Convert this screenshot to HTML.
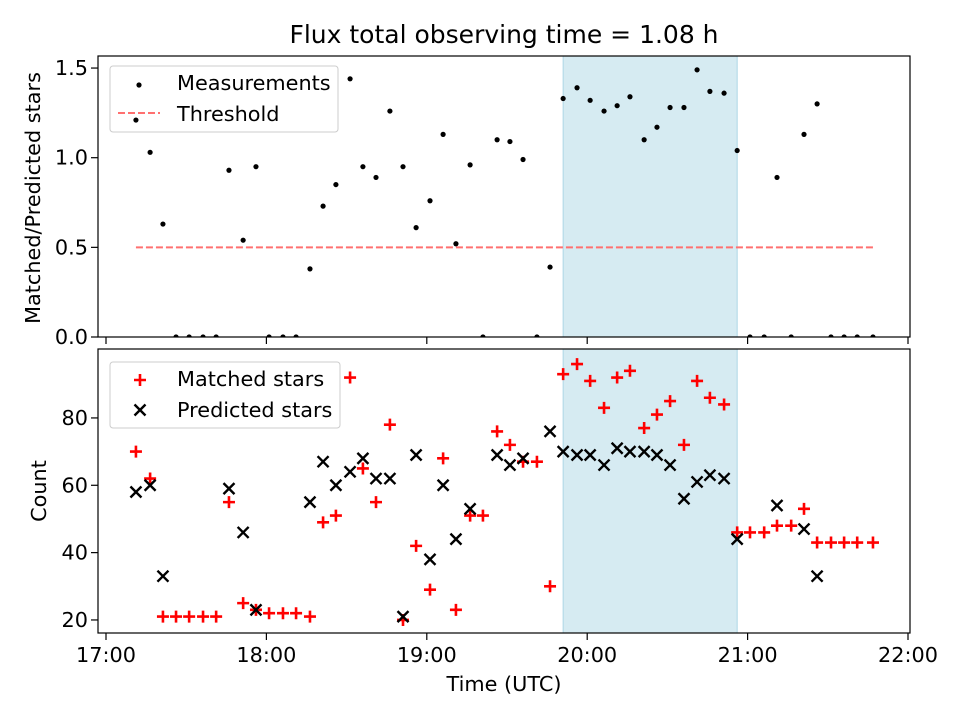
<!DOCTYPE html>
<html><head><meta charset="utf-8"><style>
body{margin:0;background:#fff;}
svg{display:block;font-family:"DejaVu Sans","Liberation Sans",sans-serif;}
</style></head><body>
<svg id="chart" width="960" height="720" xmlns="http://www.w3.org/2000/svg">
<rect width="960" height="720" fill="#fff"/>
<text x="504" y="43" font-size="25" text-anchor="middle">Flux total observing time = 1.08 h</text>
<g id="topPanel"></g>
<g id="botPanel"></g>
<text x="504" y="691" font-size="20.8" text-anchor="middle">Time (UTC)</text>
<text transform="translate(40,198) rotate(-90)" font-size="20.8" text-anchor="middle">Matched/Predicted stars</text>
<text transform="translate(46,491) rotate(-90)" font-size="20.8" text-anchor="middle">Count</text>
</svg>
<script>
// minutes after 17:00
const times=[11.2,16.5,21.3,26.2,31.1,36.3,41.2,46.0,51.3,56.1,61.0,66.2,71.1,76.3,81.2,86.0,91.3,96.1,101.0,106.2,111.1,116.0,121.2,126.1,130.9,136.2,141.0,146.3,151.1,156.0,161.2,166.1,171.0,176.2,181.1,186.3,191.2,196.0,201.3,206.1,211.0,216.2,221.1,225.9,231.2,236.1,240.9,246.2,251.0,256.3,261.1,266.0,271.2,276.1,281.0,286.9];
const ratio=[1.21,1.03,0.63,0,0,0,0,0.93,0.54,0.95,0,0,0,0.38,0.73,0.85,1.44,0.95,0.89,1.26,0.95,0.61,0.76,1.13,0.52,0.96,0,1.10,1.09,0.99,0,0.39,1.33,1.39,1.32,1.26,1.29,1.34,1.10,1.17,1.28,1.28,1.49,1.37,1.36,1.04,0,0,0.89,0,1.13,1.30,0,0,0,0];
const matched=[70,62,21,21,21,21,21,55,25,23,22,22,22,21,49,51,92,65,55,78,20,42,29,68,23,51,51,76,72,67,67,30,93,96,91,83,92,94,77,81,85,72,91,86,84,46,46,46,48,48,53,43,43,43,43,43];
const predicted=[58,60,33,0,0,0,0,59,46,23,0,0,0,55,67,60,64,68,62,62,21,69,38,60,44,53,0,69,66,68,0,76,70,69,69,66,71,70,70,69,66,56,61,63,62,44,0,0,54,0,47,33,0,0,0,0];
const xTickVals=[0,60,120,180,240,300];
const xTickLabels=["17:00","18:00","19:00","20:00","21:00","22:00"];
const topTicks=[0,0.5,1.0,1.5];
const botTicks=[20,40,60,80];
const threshold=0.5;
const spanStart=171.0, spanEnd=236.1;

const NS="http://www.w3.org/2000/svg";
const L=98,R=910;
const X=m=>106+m*160.4/60;
const Yt=v=>337-v*179.3;
const Yb=v=>687.3-v*3.367;
function el(p,tag,a){const e=document.createElementNS(NS,tag);for(const k in a)e.setAttribute(k,a[k]);p.appendChild(e);return e;}
const topG=document.getElementById('topPanel'),botG=document.getElementById('botPanel');

function panel(g,y0,y1,ticks,Y,fmt,labels){
  const cp=el(g,'clipPath',{id:'c'+y0});el(cp,'rect',{x:L,y:y0,width:R-L,height:y1-y0});
  const s=el(g,'rect',{x:X(spanStart),y:y0,width:X(spanEnd)-X(spanStart),height:y1-y0,fill:'#add8e6','fill-opacity':0.5,stroke:'#add8e6'});
  
  
  xTickVals.forEach((v,i)=>{
    el(g,'line',{x1:X(v),x2:X(v),y1:y1,y2:y1+7,stroke:'#000','stroke-width':1.2});
    if(labels){const tx=el(g,'text',{x:X(v),y:y1+29,'font-size':20.8,'text-anchor':'middle'});tx.textContent=xTickLabels[i];
      
      }
  });
  ticks.forEach(v=>{
    el(g,'line',{x1:L-7,x2:L,y1:Y(v),y2:Y(v),stroke:'#000','stroke-width':1.2});
    const tx=el(g,'text',{x:L-10,y:Y(v)+7,'font-size':20.8,'text-anchor':'end'});tx.textContent=fmt(v);
    
    
  });
  return 'url(#c'+y0+')';
}
// top
let clip=panel(topG,56,337,topTicks,Yt,v=>v.toFixed(1),false);
const th=el(topG,'line',{x1:X(times[0]),x2:X(times[times.length-1]),y1:Yt(threshold),y2:Yt(threshold),stroke:'#ff7070','stroke-width':2,'stroke-dasharray':'7,3'});


const lg1=el(topG,'g',{});


el(lg1,'rect',{x:110,y:66,width:228,height:66,rx:3,fill:'#fff','fill-opacity':0.8,stroke:'#ccc'});
el(lg1,'circle',{cx:139,cy:85,r:2.6,fill:'#000'});
let lt=el(lg1,'text',{x:177,y:90,'font-size':20.8});lt.textContent='Measurements';
el(lg1,'line',{x1:118,x2:160,y1:113,y2:113,stroke:'#ff7070','stroke-width':2,'stroke-dasharray':'7,3'});
lt=el(lg1,'text',{x:177,y:121,'font-size':20.8});lt.textContent='Threshold';
const tg=el(topG,'g',{'clip-path':clip});
times.forEach((tm,i)=>{const c=el(tg,'circle',{cx:X(tm),cy:Yt(ratio[i]),r:2.6,fill:'#000'});
  
  });
el(topG,'rect',{x:L,y:56,width:R-L,height:281,fill:'none',stroke:'#000','stroke-width':1.2});

// bottom
clip=panel(botG,349,633,botTicks,Yb,v=>String(v),true);
const bg=el(botG,'g',{'clip-path':clip});
function plus(g,x,y){return el(g,'path',{d:`M${x-6},${y}H${x+6}M${x},${y-6}V${y+6}`,stroke:'#f00','stroke-width':2.6});}
function cross(g,x,y){return el(g,'path',{d:`M${x-5.5},${y-5.5}L${x+5.5},${y+5.5}M${x-5.5},${y+5.5}L${x+5.5},${y-5.5}`,stroke:'#000','stroke-width':2.4});}
times.forEach((tm,i)=>{
  const p=plus(bg,X(tm),Yb(matched[i]));
  
  
  const c=cross(bg,X(tm),Yb(predicted[i]));
  
  
});
el(botG,'rect',{x:L,y:349,width:R-L,height:284,fill:'none',stroke:'#000','stroke-width':1.2});
const lg2=el(botG,'g',{});


el(lg2,'rect',{x:110,y:362,width:230,height:66,rx:3,fill:'#fff','fill-opacity':0.8,stroke:'#ccc'});
plus(lg2,140,380);
lt=el(lg2,'text',{x:177,y:386,'font-size':20.8});lt.textContent='Matched stars';
cross(lg2,140,410);
lt=el(lg2,'text',{x:177,y:417,'font-size':20.8});lt.textContent='Predicted stars';
</script>
</body></html>
